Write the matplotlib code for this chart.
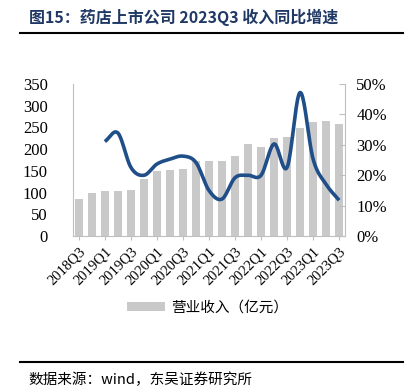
import numpy as np
import matplotlib.pyplot as plt

plt.rcParams['font.family'] = ['Liberation Serif', 'Noto Sans CJK SC']

quarters = ['2018Q3', '2018Q4', '2019Q1', '2019Q2', '2019Q3', '2019Q4', '2020Q1',
            '2020Q2', '2020Q3', '2020Q4', '2021Q1', '2021Q2', '2021Q3', '2021Q4',
            '2022Q1', '2022Q2', '2022Q3', '2022Q4', '2023Q1', '2023Q2', '2023Q3']
revenue = [85, 99, 103, 104, 106, 131, 149, 153, 155, 173, 172, 173, 185, 212,
           206, 225, 229, 248, 262, 264, 257]
# yoy growth (%) starts at 2019Q1
growth = [31.1, 33.9, 22.6, 20.0, 23.7, 25.3, 26.3, 24.2, 15.0, 12.2, 19.2, 20.0,
          20.0, 30.3, 22.6, 47.2, 25.3, 17.0, 11.8]


def smooth(x, y, n=20):
    # catmull-rom style curve through the points, like excel smoothed lines
    x = np.asarray(x, float)
    y = np.asarray(y, float)
    px = np.concatenate([[2 * x[0] - x[1]], x, [2 * x[-1] - x[-2]]])
    py = np.concatenate([[2 * y[0] - y[1]], y, [2 * y[-1] - y[-2]]])
    xs, ys = [], []
    t = np.linspace(0, 1, n, endpoint=False)
    for i in range(1, len(px) - 2):
        for p, out in ((px, xs), (py, ys)):
            p0, p1, p2, p3 = p[i - 1], p[i], p[i + 1], p[i + 2]
            out.extend(0.5 * ((2 * p1) + (-p0 + p2) * t
                              + (2 * p0 - 5 * p1 + 4 * p2 - p3) * t ** 2
                              + (-p0 + 3 * p1 - 3 * p2 + p3) * t ** 3))
    xs.append(x[-1])
    ys.append(y[-1])
    return np.array(xs), np.array(ys)


fig = plt.figure(figsize=(4.07, 3.89), dpi=100)

# title and rules
fig.text(0.072, 0.955, '图15：药店上市公司 2023Q3 收入同比增速', fontsize=11.5,
         fontweight='bold', color='#1F3864', va='center',
         family=['Noto Sans CJK SC'])
fig.add_artist(plt.Line2D([0.049, 0.99], [0.915, 0.915], color='black', lw=1.5))
fig.add_artist(plt.Line2D([0.049, 0.99], [0.069, 0.069], color='black', lw=1.5))
fig.text(0.07, 0.004, '数据来源：wind，东吴证券研究所', fontsize=10.5, va='bottom',
         family=['Noto Sans CJK SC'])

ax = fig.add_axes([0.179, 0.393, 0.669, 0.391])
x = np.arange(len(quarters))
ax.bar(x, revenue, width=0.58, color='#C9C9C9', label='营业收入（亿元）', zorder=1)
ax.set_xlim(-0.46, len(quarters) - 0.54)
ax.set_ylim(0, 350)
ax.set_yticks(range(0, 351, 50))
ax.set_xticks(x[::2])
ax.set_xticklabels(quarters[::2], rotation=45, ha='right', rotation_mode='anchor',
                   fontsize=10.5, family='Liberation Serif')
ax.tick_params(axis='y', length=0, labelsize=12, pad=18)
ax.tick_params(axis='x', length=3, color='#BFBFBF', pad=3)
for s in ['top', 'right']:
    ax.spines[s].set_visible(False)
ax.spines['left'].set_color('#BFBFBF')
ax.spines['bottom'].set_color('#BFBFBF')

ax2 = ax.twinx()
sx, sy = smooth(x[2:], growth)
ax2.plot(sx, sy, color='#1F4E89', lw=2.6, solid_capstyle='butt', zorder=3)
ax2.set_ylim(0, 50)
ax2.set_yticks(range(0, 51, 10))
ax2.set_yticklabels([f'{v}%' for v in range(0, 51, 10)])
ax2.tick_params(axis='y', direction='in', length=4, color='#BFBFBF', labelsize=12, pad=8)
for s in ['top', 'left', 'bottom']:
    ax2.spines[s].set_visible(False)
ax2.spines['right'].set_color('#BFBFBF')

fig.legend(handles=[ax.patches[0]], labels=['营业收入（亿元）'], loc='center',
           bbox_to_anchor=(0.51, 0.21), frameon=False, handlelength=2.6,
           handleheight=0.6, handletextpad=0.4,
           prop={'family': 'Noto Sans CJK SC', 'size': 10.5})

fig.savefig('out.png', dpi=100)
